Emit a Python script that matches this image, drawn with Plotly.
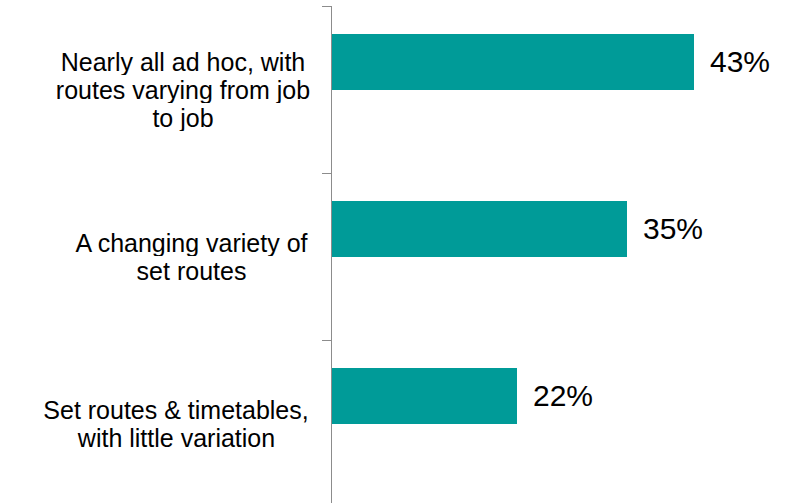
import plotly.graph_objects as go

# Survey responses: how routes are planned
category_lines = [
    ["Nearly all ad hoc, with", "routes varying from job", "to job"],
    ["A changing variety of", "set routes"],
    ["Set routes & timetables,", "with little variation"],
]
shares = [43, 35, 22]

BAR_COLOR = "#009B98"
AXIS_COLOR = "#8C8C8C"
FONT = "Liberation Sans, Arial, sans-serif"
BAR_WIDTH = 0.33
LABEL_SIZE = 25
LINE_STEP = 28              # px between label lines
LABEL_BOX_W = [256, 239, 270]  # px width of each label block (lines centred in it)
VALUE_SIZE = 30

idx = list(range(len(category_lines)))

fig = go.Figure(
    go.Bar(
        x=shares,
        y=idx,
        orientation="h",
        width=BAR_WIDTH,
        offset=-BAR_WIDTH,
        marker=dict(color=BAR_COLOR, line=dict(width=0)),
        hoverinfo="skip",
    )
)

annotations = []
for i, (lines, val) in enumerate(zip(category_lines, shares)):
    mid = (len(lines) - 1) / 2
    # category label, one annotation per line so the line spacing stays tight
    for k, line in enumerate(lines):
        annotations.append(
            dict(
                x=0, xref="paper", xanchor="right", xshift=-20,
                y=i, yref="y", yanchor="middle", yshift=-(k - mid) * LINE_STEP,
                width=LABEL_BOX_W[i], height=LINE_STEP - 2, borderpad=0,
                align="center", valign="middle",
                text=line, showarrow=False,
                font=dict(family=FONT, size=LABEL_SIZE, color="#000000"),
            )
        )
    # value label to the right of each bar
    annotations.append(
        dict(
            x=val, xref="x", xanchor="left", xshift=14,
            y=i - BAR_WIDTH / 2, yref="y", yanchor="middle",
            text=f"{val}%", showarrow=False,
            font=dict(family=FONT, size=VALUE_SIZE, color="#000000"),
        )
    )

fig.update_layout(
    width=805,
    height=503,
    margin=dict(l=332, r=0, t=6, b=0),
    paper_bgcolor="white",
    plot_bgcolor="white",
    showlegend=False,
    bargap=0,
    annotations=annotations,
    xaxis=dict(
        range=[0, 56.2],
        visible=False,
        showgrid=False,
        zeroline=False,
    ),
    yaxis=dict(
        range=[2.476, -0.5],
        tickmode="array",
        tickvals=[-0.5, 0.5, 1.5, 2.5],
        ticktext=["", "", "", ""],
        ticks="outside",
        ticklen=9,
        tickwidth=1,
        tickcolor=AXIS_COLOR,
        showline=True,
        linecolor=AXIS_COLOR,
        linewidth=1,
        showgrid=False,
        zeroline=False,
    ),
)

fig.write_html("out.html")
